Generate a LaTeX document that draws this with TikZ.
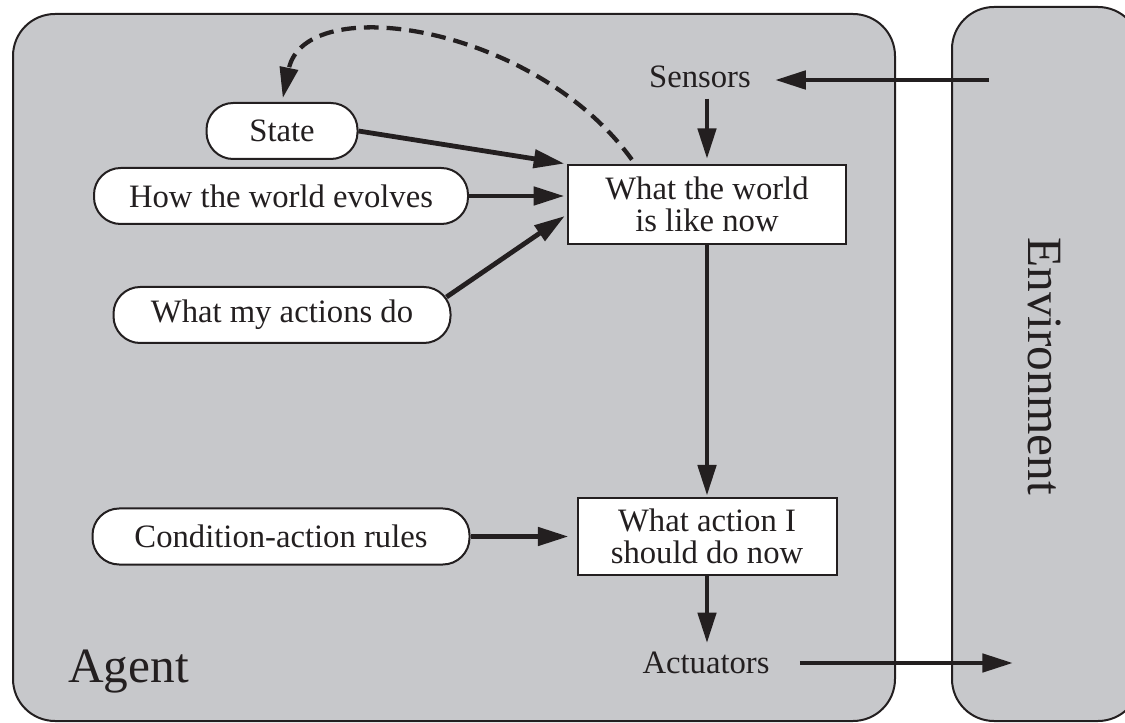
\documentclass[tikz,border=0pt]{standalone}
\usepackage{fontspec}
\setmainfont{Liberation Serif}
\usetikzlibrary{arrows.meta,calc}
\definecolor{panelgray}{RGB}{199,200,203}
\definecolor{ink}{RGB}{35,31,32}
\begin{document}
\begin{tikzpicture}[x=0.75pt,y=-0.75pt,
  panel/.style={draw=ink,fill=panelgray,line width=1.5pt,rounded corners=31.5pt},
  oval/.style={draw=ink,fill=white,line width=1.5pt,rounded corners=20pt,minimum height=42pt,inner sep=0pt,font=\fontsize{24.5}{24}\selectfont,text=ink},
  boxnode/.style={draw=ink,fill=white,line width=1.5pt,inner sep=0pt,align=center,font=\fontsize{24.5}{24}\selectfont,text=ink},
  lbl/.style={inner sep=0pt,font=\fontsize{24.5}{24}\selectfont,text=ink},
  biglbl/.style={inner sep=0pt,font=\fontsize{37}{40}\selectfont,text=ink},
  arr/.style={draw=ink,line width=3.6pt,-{Triangle[length=23pt,width=13.5pt]}},
  dasharr/.style={draw=ink,line width=3.2pt,dash pattern=on 11pt off 6pt,-{Triangle[length=23pt,width=13.5pt]}}
]
\useasboundingbox (0,0) rectangle (1125,723);
% panels
\path[panel] (13,14) rectangle (895,721);
\path[panel] (952,7) rectangle (1140,721);

% labels
\node[biglbl, anchor=base west] (agent) at (68,682) {Agent};
\node[biglbl, rotate=-90, anchor=base] (env) at (1028,366) {Environment};
\node[lbl, anchor=base] (sensors) at (700,88) {Sensors};
\node[lbl, anchor=base] (actuators) at (706,673) {Actuators};

% rounded knowledge nodes
\node[oval, minimum width=113.25pt] (state) at (282,131) {State};
\node[oval, minimum width=280.5pt] (how) at (281,196) {How the world evolves};
\node[oval, minimum width=252.75pt] (wmad) at (282,315) {What my actions do};
\node[oval, minimum width=282.75pt] (car) at (281,536.5) {Condition-action rules};

% rectangular boxes
\node[boxnode, minimum width=208.5pt, minimum height=59.25pt] (world) at (707,204.5) {What the world\\is like now};
\node[boxnode, minimum width=194.25pt, minimum height=57.75pt] (action) at (707,536.5) {What action I\\should do now};

% coordinates in environment
\coordinate (envS) at (989,80);
\coordinate (envA) at (1013,663);

% connectors
\draw[arr, shorten >=18pt] (envS) -- (envS -| sensors.east);
\draw[arr, shorten <=7.5pt, shorten >=3.75pt] (world.north |- sensors.south) -- (world.north);
\draw[arr, shorten >=2pt] (state.east) -- (world.north west);
\draw[arr, shorten >=2pt] (how.east) -- (how.east -| world.west);
\draw[arr, shorten >=2pt] ([shift={(-5,11)}]wmad.north east) -- ([shift={(0,10)}]world.west);
\draw[arr, shorten >=1pt] (world.south) -- (action.north);
\draw[arr, shorten >=6pt] (car.east) -- (action.west);
\draw[arr, shorten >=6pt] (action.south) -- (action.south |- actuators.north);
\draw[arr, shorten <=22.5pt] (actuators.east |- envA) -- (envA);
\draw[dasharr, shorten <=4pt, shorten >=3pt] ([shift={(68,0)}]world.north west) .. controls (535,25) and (305,-10) .. (state.north);
\end{tikzpicture}
\end{document}
